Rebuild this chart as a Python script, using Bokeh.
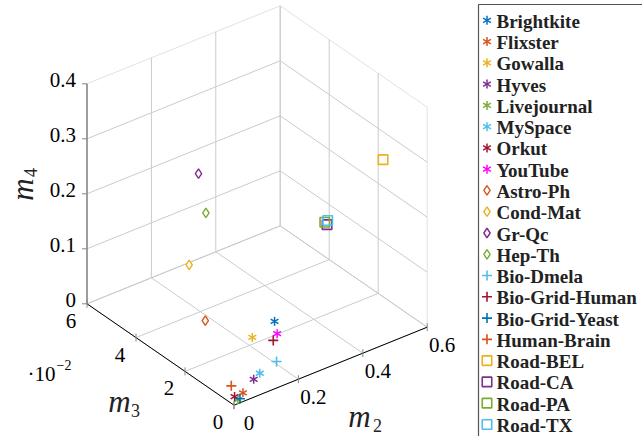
import math
from bokeh.plotting import figure
from bokeh.models import Range1d
from bokeh.core.properties import value
from bokeh.embed import file_html
from bokeh.resources import INLINE

# ---------------- data ----------------
names = ["Brightkite", "Flixster", "Gowalla", "Hyves", "Livejournal", "MySpace",
         "Orkut", "YouTube", "Astro-Ph", "Cond-Mat", "Gr-Qc", "Hep-Th",
         "Bio-Dmela", "Bio-Grid-Human", "Bio-Grid-Yeast", "Human-Brain",
         "Road-BEL", "Road-CA", "Road-PA", "Road-TX"]
m2 = [0.202, 0.043, 0.133, 0.084, 0.020, 0.103, 0.017, 0.172,
      0.063, 0.089, 0.118, 0.141,
      0.155, 0.160, 0.026, 0.022,
      0.463, 0.289, 0.282, 0.291]
m3 = [0.010, 0.002, 0.010, 0.003, 0.001, 0.003, 0.002, 0.005,
      0.020, 0.030, 0.030, 0.030,
      0.003, 0.005, 0.001, 0.004,
      0.0, 0.0, 0.0, 0.0]
m4 = [0.074, 0.0062, 0.061, 0.018, 0.0025, 0.0245, 0.0056, 0.074,
      0.0775, 0.142, 0.301, 0.224,
      0.0336, 0.0646, 0.0024, 0.0177,
      0.337, 0.260, 0.266, 0.267]
kinds = ["asterisk"] * 8 + ["diamond"] * 4 + ["cross"] * 4 + ["square"] * 4
colors = ["#0072BD", "#D95319", "#EDB120", "#7E2F8E", "#77AC30", "#4DBEEE", "#A2142F", "#FF00FF",
          "#D95319", "#EDB120", "#7E2F8E", "#77AC30",
          "#4DBEEE", "#A2142F", "#0072BD", "#D95319",
          "#EDB120", "#7E2F8E", "#77AC30", "#4DBEEE"]

m2_ticks = [0, 0.2, 0.4, 0.6]
m2_labels = ["0", "0.2", "0.4", "0.6"]
m3_ticks = [0, 0.02, 0.04, 0.06]
m3_labels = ["0", "2", "4", "6"]
m4_ticks = [0, 0.1, 0.2, 0.3, 0.4]
m4_labels = ["0", "0.1", "0.2", "0.3", "0.4"]

# ---------------- 3D view (screen-pixel projection) ----------------
OX, OY = 233.5, 404.7
def proj(a, b, c):
    return OX + 322 * a - 2450 * b, OY - 130 * a - 1690 * b - 550 * c

X2, X3, X4 = (min(m2_ticks), max(m2_ticks)), (min(m3_ticks), max(m3_ticks)), (min(m4_ticks), max(m4_ticks))

p = figure(width=642, height=436, output_backend="svg", toolbar_location=None,
           x_range=Range1d(0, 642), y_range=Range1d(436, 0),
           x_axis_type=None, y_axis_type=None, min_border=0)
p.outline_line_color = None
p.background_fill_color = "white"

SERIF = value("Liberation Serif")

def seg_list(pairs):
    xs, ys = [], []
    for (a0, b0, c0), (a1, b1, c1) in pairs:
        x0, y0 = proj(a0, b0, c0)
        x1, y1 = proj(a1, b1, c1)
        xs.append([x0, x1]); ys.append([y0, y1])
    return xs, ys

grid = []
edge = []
for t in m2_ticks:
    grid.append(((t, X3[1], X4[0]), (t, X3[1], X4[1])))
for t in m4_ticks:
    (edge if t == X4[1] else grid).append(((X2[0], X3[1], t), (X2[1], X3[1], t)))
for t in m3_ticks:
    (edge if t == X3[0] else grid).append(((X2[1], t, X4[0]), (X2[1], t, X4[1])))
for t in m4_ticks:
    (edge if t == X4[1] else grid).append(((X2[1], X3[0], t), (X2[1], X3[1], t)))
for t in m2_ticks:
    grid.append(((t, X3[0], X4[0]), (t, X3[1], X4[0])))
for t in m3_ticks:
    grid.append(((X2[0], t, X4[0]), (X2[1], t, X4[0])))

xs, ys = seg_list(edge)
p.multi_line(xs, ys, line_color="#e2e2e2", line_width=1)
xs, ys = seg_list(grid)
p.multi_line(xs, ys, line_color="#cbcbcb", line_width=1)

# axes
xs, ys = seg_list([((X2[0], X3[1], X4[0]), (X2[0], X3[1], X4[1]))])
p.multi_line(xs, ys, line_color="#777777", line_width=1.3)
xs, ys = seg_list([((X2[0], X3[0], X4[0]), (X2[0], X3[1], X4[0])),
                   ((X2[0], X3[0], X4[0]), (X2[1], X3[0], X4[0]))])
p.multi_line(xs, ys, line_color="black", line_width=1)

# tick marks
tx, ty = [], []
for t in m4_ticks:
    x, y = proj(X2[0], X3[1], t)
    tx.append([x - 5, x]); ty.append([y, y])
for t in m3_ticks:
    x, y = proj(X2[0], t, X4[0])
    tx.append([x, x]); ty.append([y - 4, y + 4])
for t in m2_ticks:
    x, y = proj(t, X3[0], X4[0])
    tx.append([x, x]); ty.append([y - 4, y + 4])
p.multi_line(tx, ty, line_color="#888888", line_width=1)

# tick labels
lx, ly = [], []
for t in m4_ticks:
    x, y = proj(X2[0], X3[1], t)
    lx.append(x - 11); ly.append(y - 4)
p.text(lx, ly, text=m4_labels, text_font=SERIF, text_font_size="21px",
       text_align="right", text_baseline="middle", text_color="black")
lx, ly = [], []
for t in m3_ticks:
    x, y = proj(X2[0], t, X4[0])
    lx.append(x - 16); ly.append(y + 17)
p.text(lx, ly, text=m3_labels, text_font=SERIF, text_font_size="21px",
       text_align="center", text_baseline="middle", text_color="black")
lx, ly = [], []
for t in m2_ticks:
    x, y = proj(t, X3[0], X4[0])
    lx.append(x + 15); ly.append(y + 18)
p.text(lx, ly, text=m2_labels, text_font=SERIF, text_font_size="21px",
       text_align="center", text_baseline="middle", text_color="black")

# scale factor label  ·10^-2
p.text([55], [373], text=["\u00b710"], text_font=SERIF, text_font_size="21px",
       text_align="right", text_baseline="middle", text_color="black")
p.text([56], [364], text=["\u22122"], text_font=SERIF, text_font_size="14px",
       text_align="left", text_baseline="middle", text_color="black")

# axis labels (italic m with subscript)
p.text([359, 119], [416, 401], text=["m", "m"], text_font=SERIF, text_font_style="italic",
       text_font_size="31px", text_align="center", text_baseline="middle", text_color="#222222")
p.text([377, 135], [425, 410], text=["2", "3"], text_font=SERIF,
       text_font_size="18px", text_align="center", text_baseline="middle", text_color="#222222")
p.text([22], [189], text=["m"], text_font=SERIF, text_font_style="italic", angle=math.pi / 2,
       text_font_size="31px", text_align="center", text_baseline="middle", text_color="#222222")
p.text([30], [172], text=["4"], text_font=SERIF, angle=math.pi / 2,
       text_font_size="18px", text_align="center", text_baseline="middle", text_color="#222222")

# ---------------- markers ----------------
def draw_marker(xs_, ys_, kind, color):
    if kind == "asterisk":
        for ang in (math.pi / 2, math.pi / 6, -math.pi / 6):
            p.scatter(xs_, ys_, marker="dash", size=9, angle=ang,
                      line_color=color, line_width=1.5)
    elif kind == "cross":
        p.scatter(xs_, ys_, marker="cross", size=10, line_color=color, line_width=1.6)
    elif kind == "diamond":
        p.scatter(xs_, ys_, marker="diamond", size=9.5, fill_color="white",
                  line_color=color, line_width=1.4)
    elif kind == "square":
        p.scatter(xs_, ys_, marker="square", size=9.5, fill_color=None,
                  line_color=color, line_width=1.6)

for i in range(len(names)):
    x, y = proj(m2[i], m3[i], m4[i])
    draw_marker([x], [y], kinds[i], colors[i])

# ---------------- legend ----------------
p.quad(left=[478], right=[700], top=[4], bottom=[500], fill_color="white",
       line_color="#555555", line_width=1.2)
for i in range(len(names)):
    draw_marker([486.5], [19.8 + i * 21.27], kinds[i], colors[i])
p.text([496] * len(names), [19.8 + i * 21.27 + 1 for i in range(len(names))], text=names,
       text_font=SERIF, text_font_style="bold", text_font_size="19px",
       text_align="left", text_baseline="middle", text_color="#222222")

open("out.html", "w").write(file_html(p, INLINE))
